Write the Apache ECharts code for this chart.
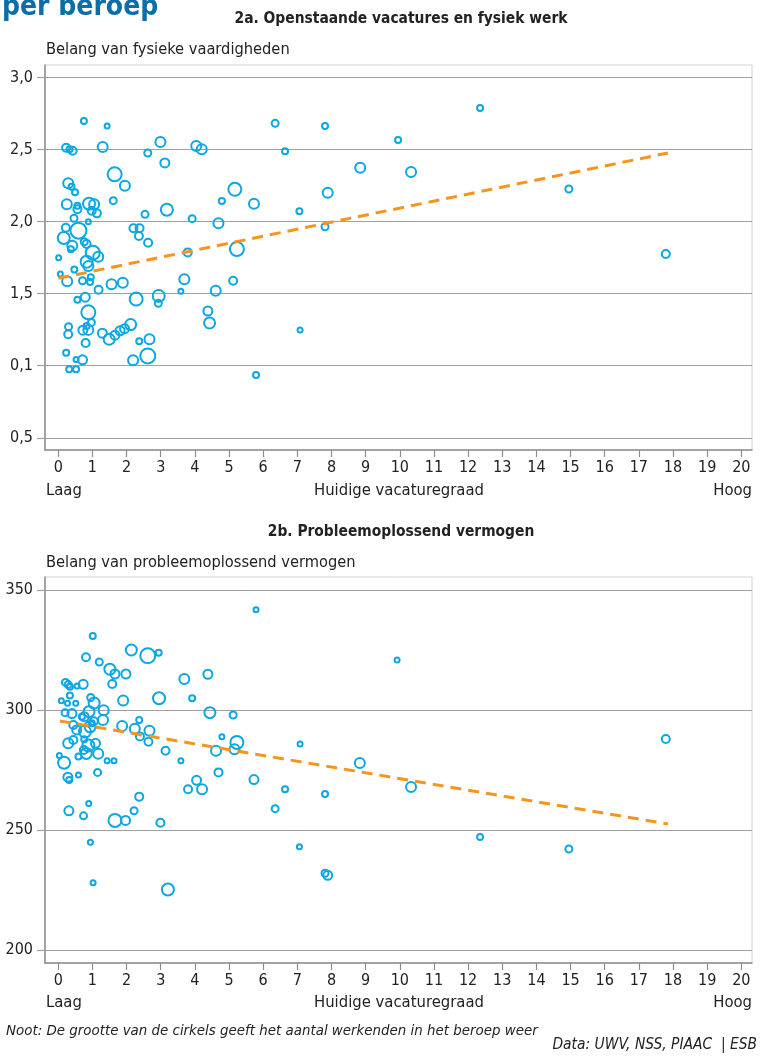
<!DOCTYPE html>
<html>
<head>
<meta charset="utf-8">
<script src="https://cdn.jsdelivr.net/npm/echarts@6/dist/echarts.min.js"></script>
<style>
html,body{margin:0;padding:0;background:#fff;}
#chart{width:760px;height:1061px;}
</style>
</head>
<body>
<div id="chart"></div>
<script>
// ---------- data ----------
// [huidige vacaturegraad, belang, werkenden (relatieve omvang)]
const fysiekData = [
[0.75,2.70,36],[1.43,2.665,25],[0.23,2.514,64],[0.33,2.503,36],[0.42,2.493,64],
[1.30,2.519,100],[2.99,2.553,100],[2.62,2.477,49],[3.12,2.408,81],[4.04,2.526,100],
[4.20,2.503,100],[6.35,2.683,49],[6.64,2.489,36],[7.81,2.665,36],[8.84,2.375,100],
[9.95,2.567,36],[10.33,2.345,100],[12.35,2.79,36],[14.95,2.227,49],[17.79,1.776,64],
[1.65,2.329,196],[1.95,2.25,100],[0.29,2.267,100],[0.39,2.243,36],[0.49,2.204,36],
[0.25,2.121,100],[0.56,2.111,36],[0.56,2.086,64],[0.90,2.125,144],[1.05,2.121,100],
[0.98,2.076,64],[1.13,2.058,64],[1.61,2.146,49],[2.54,2.051,49],[3.18,2.083,144],
[3.92,2.021,49],[4.79,2.144,36],[5.17,2.225,169],[5.73,2.125,100],[4.69,1.989,100],
[7.06,2.072,36],[7.81,1.965,49],[7.89,2.201,100],[0.46,2.024,49],[0.88,2.0,25],
[0.22,1.958,64],[0.59,1.938,256],[2.20,1.954,64],[2.38,1.954,64],[2.36,1.901,64],
[2.63,1.854,64],[0.16,1.887,144],[0.76,1.861,49],[0.83,1.845,64],[0.41,1.833,100],
[0.37,1.808,36],[1.01,1.785,196],[1.17,1.757,100],[0.01,1.75,25],[3.79,1.787,64],
[5.23,1.81,196],[0.83,1.722,144],[0.88,1.692,100],[0.47,1.668,36],[0.06,1.637,25],
[0.26,1.586,100],[0.71,1.59,49],[0.95,1.614,36],[0.93,1.581,36],[1.18,1.528,64],
[1.56,1.566,100],[1.89,1.576,100],[0.56,1.458,36],[0.79,1.476,81],[0.88,1.371,196],
[2.28,1.463,169],[2.94,1.485,144],[2.93,1.433,49],[3.59,1.517,25],[3.69,1.60,100],
[4.61,1.521,100],[5.12,1.59,64],[4.38,1.38,81],[4.43,1.297,121],[0.30,1.271,49],
[0.29,1.219,64],[0.72,1.247,81],[0.83,1.276,36],[0.88,1.249,100],[0.97,1.301,49],
[0.80,1.158,64],[1.29,1.226,81],[1.49,1.184,121],[1.66,1.212,81],[1.81,1.243,81],
[1.94,1.257,81],[2.12,1.286,121],[2.37,1.17,36],[2.67,1.184,100],[0.23,1.09,36],
[0.52,1.043,25],[0.71,1.041,81],[2.19,1.038,100],[2.62,1.068,225],[0.32,0.975,36],
[0.52,0.976,36],[5.79,0.935,36],[7.08,1.248,25]
];
const probleemData = [
[5.79,341.8,25],[1.01,330.8,36],[0.81,322,64],[2.14,325,121],[2.62,322.6,225],
[2.94,323.9,36],[1.20,320,49],[1.51,317,121],[1.66,315,81],[1.98,315,81],
[1.58,310.8,64],[3.69,312.9,100],[4.38,314.9,81],[3.92,304.9,36],[0.21,311.5,49],
[0.29,310.6,49],[0.34,309.7,36],[0.55,310,25],[0.73,310.7,81],[0.09,303.9,25],
[0.34,306,36],[0.27,302.8,25],[0.51,302.8,25],[0.95,305.2,49],[1.05,302.9,121],
[1.90,304,100],[2.95,304.9,144],[4.44,298.9,121],[5.12,297.9,49],[0.20,298.9,49],
[0.40,298.5,81],[0.69,297.2,36],[0.76,297.2,81],[0.90,299.3,121],[1.04,295.3,64],
[1.33,299.9,100],[1.31,295.8,100],[1.87,293.3,100],[2.24,292.2,100],[2.37,295.8,36],
[2.67,291.4,100],[2.39,289,64],[2.64,286.8,64],[4.79,288.9,25],[5.23,286.5,169],
[5.16,283.6,100],[4.62,283,100],[3.14,283,64],[3.59,278.9,25],[0.44,293.8,64],
[0.54,291.7,81],[0.78,291,144],[0.93,293,121],[0.98,294.5,36],[0.29,286.1,100],
[0.44,287.5,64],[0.76,287.8,36],[0.88,285.2,144],[1.09,286.1,81],[0.75,283.3,64],
[0.82,281.9,121],[0.59,280.6,36],[1.17,281.8,100],[0.03,281,25],[0.17,278,144],
[1.43,278.9,25],[1.63,278.9,25],[7.08,285.8,25],[8.83,277.9,100],[0.28,272,81],
[0.32,270.8,36],[0.59,272.9,25],[1.15,274,49],[4.05,270.7,81],[3.80,267,64],
[4.21,267,100],[4.69,274,64],[5.73,271,81],[6.64,267,36],[7.81,265,36],
[2.37,263.9,64],[0.89,261,25],[0.31,258,81],[0.74,255.9,49],[1.66,254,169],
[1.97,254,81],[2.22,258,49],[2.99,253,64],[6.35,258.9,49],[0.94,244.9,25],
[7.06,243,25],[7.81,232,49],[7.89,231.1,81],[1.02,228,25],[3.21,225.2,144],
[9.92,320.8,25],[10.33,267.9,100],[12.35,247.1,36],[14.95,242.1,49],[17.79,287.9,64]
];
const trendFysiek = [[0, 1.607], [17.85, 2.477]];
const trendProbleem = [[0.05, 295.4], [17.85, 252.5]];

const xTicks = [0,1,2,3,4,5,6,7,8,9,10,11,12,13,14,15,16,17,18,19,20];
const yTicksFysiek = [0.5, 1.0, 1.5, 2.0, 2.5, 3.0];
const yLabelsFysiek = ['0,5', '0,1', '1,5', '2,0', '2,5', '3,0'];
const yTicksProbleem = [200, 250, 300, 350];
const yLabelsProbleem = ['200', '250', '300', '350'];

// ---------- styling ----------
const FONT = "'Liberation Sans Narrow', 'DejaVu Sans Condensed', 'Roboto', sans-serif";
const BLUE = '#0aa7e4';
const ORANGE = '#f7941d';
const AXIS = '#8c8c8c';
const GRIDC = '#a0a0a0';

function xAxisCfg(gi) {
  return {
    type: 'value', gridIndex: gi, min: -0.389, max: 20.313,
    axisLine: { show: true, onZero: false, lineStyle: { color: AXIS, width: 1.5 } },
    axisTick: { show: true, length: 7, customValues: xTicks, lineStyle: { color: AXIS, width: 1.2 } },
    axisLabel: { customValues: xTicks, margin: 10, fontFamily: FONT, fontSize: 16, color: '#222' },
    splitLine: { show: false }
  };
}
function yAxisCfg(gi, min, max, ticks, labels) {
  return {
    type: 'value', gridIndex: gi, min: min, max: max,
    axisLine: { show: true, onZero: false, lineStyle: { color: AXIS, width: 1.5 } },
    axisTick: { show: true, length: 8, customValues: ticks, lineStyle: { color: GRIDC, width: 1.2 } },
    axisLabel: {
      customValues: ticks, margin: 12, fontFamily: FONT, fontSize: 16, color: '#222',
      formatter: function (v) { const i = ticks.findIndex(t => Math.abs(t - v) < 1e-6); return i >= 0 ? labels[i] : ''; }
    },
    splitLine: { show: true, lineStyle: { color: GRIDC, width: 1.2 } }
  };
}
function scatterCfg(idx, data) {
  return {
    type: 'scatter', xAxisIndex: idx, yAxisIndex: idx, data: data,
    symbol: 'circle',
    symbolSize: d => Math.sqrt(d[2]),
    itemStyle: { color: 'rgba(255,255,255,0)', borderColor: BLUE, borderWidth: 2, opacity: 1 },
    emphasis: { disabled: true }, z: 2
  };
}
function trendCfg(idx, data) {
  return {
    type: 'line', xAxisIndex: idx, yAxisIndex: idx, data: data,
    showSymbol: false, symbol: 'none', silent: true,
    lineStyle: { color: ORANGE, width: 3, type: [11, 7] }, z: 3
  };
}
function txt(text, x, y, opts) {
  return {
    type: 'text', x: x, y: y, silent: true,
    style: Object.assign({ text: text, font: '16px ' + FONT, fill: '#222', align: 'left', verticalAlign: 'middle' }, opts || {})
  };
}

const chart = echarts.init(document.getElementById('chart'), null, { renderer: 'canvas' });
chart.setOption({
  animation: false,
  backgroundColor: '#fff',
  grid: [
    { left: 45, right: 8, top: 65, height: 385, show: true, borderColor: '#d2d2d2', borderWidth: 1, backgroundColor: 'transparent' },
    { left: 45, right: 8, top: 577, height: 386, show: true, borderColor: '#d2d2d2', borderWidth: 1, backgroundColor: 'transparent' }
  ],
  xAxis: [xAxisCfg(0), xAxisCfg(1)],
  yAxis: [
    yAxisCfg(0, 0.415, 3.088, yTicksFysiek, yLabelsFysiek),
    yAxisCfg(1, 194.58, 355.42, yTicksProbleem, yLabelsProbleem)
  ],
  series: [
    scatterCfg(0, fysiekData), trendCfg(0, trendFysiek),
    scatterCfg(1, probleemData), trendCfg(1, trendProbleem)
  ],
  graphic: [
    txt('per beroep', 2, 22, { font: 'bold 28px ' + FONT, fill: '#0b6ea8', verticalAlign: 'bottom' }),
    txt('2a. Openstaande vacatures en fysiek werk', 401, 19, { font: 'bold 15.4px ' + FONT, align: 'center' }),
    txt('Belang van fysieke vaardigheden', 46, 50, { font: '16.3px ' + FONT }),
    txt('Laag', 46, 491, { font: '16.5px ' + FONT }),
    txt('Huidige vacaturegraad', 399, 491, { font: '16.5px ' + FONT, align: 'center' }),
    txt('Hoog', 752, 491, { font: '16.5px ' + FONT, align: 'right' }),
    txt('2b. Probleemoplossend vermogen', 401, 532, { font: 'bold 15.4px ' + FONT, align: 'center' }),
    txt('Belang van probleemoplossend vermogen', 46, 563, { font: '16.3px ' + FONT }),
    txt('Laag', 46, 1003, { font: '16.5px ' + FONT }),
    txt('Huidige vacaturegraad', 399, 1003, { font: '16.5px ' + FONT, align: 'center' }),
    txt('Hoog', 752, 1003, { font: '16.5px ' + FONT, align: 'right' }),
    txt('Noot: De grootte van de cirkels geeft het aantal werkenden in het beroep weer', 6, 1031, { font: 'italic 14.9px ' + FONT }),
    txt('Data: UWV, NSS, PIAAC  | ESB', 757, 1045, { font: 'italic 15.4px ' + FONT, align: 'right' })
  ]
});
</script>
</body>
</html>
